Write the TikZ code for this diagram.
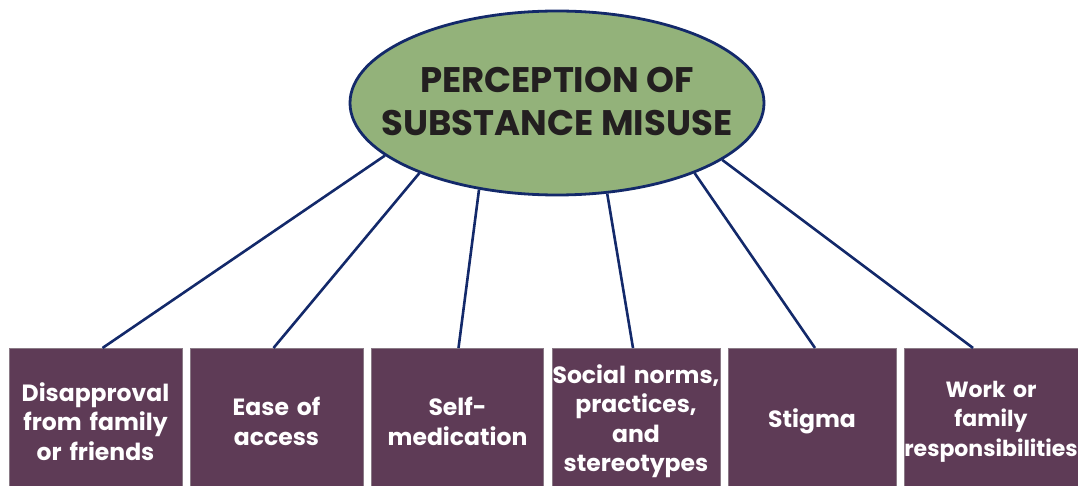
\documentclass[tikz,border=0pt]{standalone}
\usepackage{fontspec}
\setmainfont{Poppins}
\usetikzlibrary{shapes.geometric}
\definecolor{navy}{HTML}{13296A}
\definecolor{leaf}{HTML}{93B27A}
\definecolor{plum}{HTML}{5E3B56}
\definecolor{plumedge}{HTML}{8A7A86}
\definecolor{ink}{HTML}{231F20}
\tikzset{
  core/.style={ellipse, draw=navy, line width=2.8pt, fill=leaf,
    minimum width=414pt, minimum height=184pt, inner sep=0pt},
  coretext/.style={align=center, text=ink, inner sep=0pt,
    font=\bfseries\fontsize{35.5}{43}\selectfont},
  factor/.style={rectangle, draw=plumedge, line width=0.6pt, fill=plum,
    minimum height=146pt, inner sep=0pt, anchor=north,
    align=center, text=white, font=\bfseries\fontsize{23.5}{29.5}\selectfont},
  fw/.style={minimum width=#1, text width=#1},
  link/.style={draw=navy, line width=2.6pt}
}
\begin{document}
\begin{tikzpicture}[x=1pt, y=-1pt]
  \useasboundingbox (0,0) rectangle (1078,486);
  \clip (0,0) rectangle (1078,486);

  % factor boxes along the bottom
  \node[factor, fw=173pt] (b1) at (95.5,348) {Disapproval\\from family\\or friends};
  \node[factor, fw=173pt] (b2) at (276.5,348) {Ease of\\access};
  \node[factor, fw=172pt] (b3) at (457.5,348) {Self-\\medication};
  \node[factor, fw=168pt] (b4) at (636,348) {Social norms,\\practices,\\and\\stereotypes};
  \node[factor, fw=168pt] (b5) at (812,348) {Stigma};
  \node[factor, fw=174pt, font=\bfseries\fontsize{22}{29.5}\selectfont] (b6) at (991,348) {Work or\\family\\responsibilities};

  % central concept
  \node[core] (e) at (557,103) {};
  \node[coretext] (title) at ([yshift=2pt]e.center) {PERCEPTION OF\\SUBSTANCE MISUSE};

  % spokes from the ellipse to each box
  \draw[link] (e.197) -- ([xshift=7pt]b1.north);
  \draw[link] (e.207) -- ([xshift=-3pt]b2.north);
  \draw[link] (e.228) -- ([xshift=1pt]b3.north);
  \draw[link] (e.299) -- ([xshift=-3pt]b4.north);
  \draw[link] (e.333) -- ([xshift=3pt]b5.north);
  \draw[link] (e.341) -- ([xshift=-18pt]b6.north);
\end{tikzpicture}
\end{document}
